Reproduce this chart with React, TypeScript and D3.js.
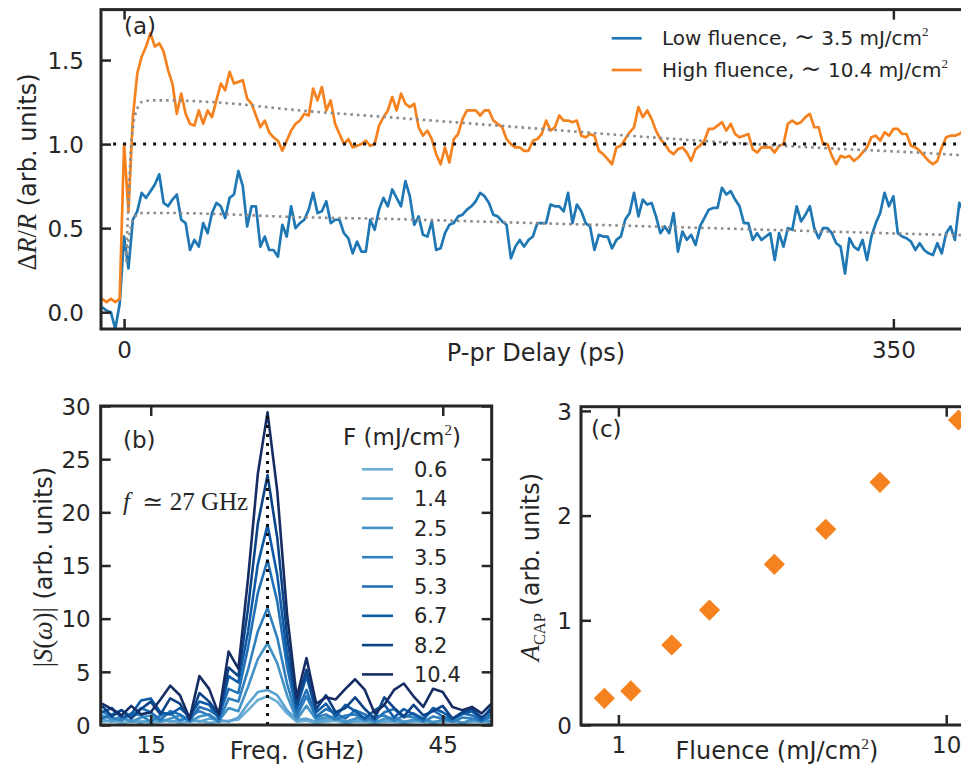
import React, { useEffect, useRef } from "react";
import * as d3 from "d3";

const W = 961;
const H = 767;
const INK = "#262626";
const SANS = "'DejaVu Sans', sans-serif";
const SERIF = "'Liberation Serif', 'DejaVu Serif', serif";
const BLUE = "#1f77b4";
const ORANGE = "#f5821f";
const FIT_GREY = "#8c8c8c";

// (a) dR/R traces, one sample every 2 ps starting at -10 ps
const delayStart = -10;
const delayStep = 2;
const highFluence = [
  0.08, 0.06, 0.08, 0.06, 0.08, 1.0, 0.6, 1.16, 1.42, 1.52,
  1.58, 1.66, 1.58, 1.6, 1.55, 1.44, 1.36, 1.18, 1.3, 1.18,
  1.12, 1.11, 1.2, 1.12, 1.2, 1.16, 1.26, 1.36, 1.32, 1.43,
  1.36, 1.37, 1.38, 1.27, 1.24, 1.17, 1.1, 1.14, 1.07, 1.04,
  1.02, 0.96, 1.02, 1.08, 1.12, 1.14, 1.18, 1.17, 1.33, 1.26,
  1.34, 1.2, 1.26, 1.12, 1.06, 1.0, 1.03, 0.98, 0.99, 1.0,
  1.02, 0.99, 1.0, 1.11, 1.16, 1.2, 1.28, 1.2, 1.3, 1.24,
  1.22, 1.24, 1.1, 1.05, 1.08, 1.03, 0.94, 0.88, 0.98, 0.89,
  1.03, 1.06, 1.15, 1.2, 1.2, 1.2, 1.17, 1.2, 1.2, 1.14,
  1.12, 1.1, 1.03, 1.0, 0.98, 0.98, 0.96, 0.96, 1.02, 1.03,
  1.06, 1.14, 1.08, 1.1, 1.17, 1.14, 1.14, 1.13, 1.14, 1.05,
  1.04, 1.06, 1.05, 0.96, 0.94, 0.91, 0.88, 0.98, 0.99, 1.03,
  1.07, 1.1, 1.22, 1.16, 1.2, 1.15, 1.08, 1.03, 1.0, 0.96,
  0.94, 0.97, 0.98, 0.95, 0.9, 0.97, 0.99, 1.02, 1.09, 1.09,
  1.11, 1.13, 1.08, 1.12, 1.06, 1.04, 1.05, 1.06, 0.97, 0.95,
  0.98, 0.98, 0.98, 0.95, 0.99, 1.0, 1.12, 1.14, 1.12, 1.13,
  1.16, 1.18, 1.1, 1.1, 1.0, 1.0, 0.93, 0.88, 0.93, 0.92,
  0.93, 0.9, 0.92, 0.95, 0.98, 1.04, 1.05, 1.02, 1.07, 1.05,
  1.09, 1.09, 1.06, 1.06, 0.99, 0.98, 0.96, 0.93, 0.9, 0.88,
  0.9, 0.98, 1.04, 1.05, 1.05, 1.06, 1.08,
];
const lowFluence = [
  0.03, 0.01, 0.0, -0.1, 0.05, 0.45, 0.26, 0.55, 0.6, 0.71,
  0.68, 0.72, 0.76, 0.82, 0.65, 0.63, 0.67, 0.7, 0.55, 0.53,
  0.37, 0.43, 0.39, 0.53, 0.47, 0.59, 0.65, 0.63, 0.56, 0.68,
  0.7, 0.84, 0.75, 0.51, 0.63, 0.63, 0.39, 0.45, 0.37, 0.37,
  0.33, 0.52, 0.45, 0.63, 0.5, 0.53, 0.55, 0.61, 0.71, 0.59,
  0.6, 0.66, 0.53, 0.55, 0.55, 0.47, 0.44, 0.35, 0.42, 0.36,
  0.36, 0.55, 0.49, 0.61, 0.68, 0.63, 0.73, 0.68, 0.63, 0.78,
  0.69, 0.52, 0.57, 0.46, 0.45, 0.54, 0.37, 0.38, 0.47, 0.52,
  0.53, 0.57, 0.58, 0.61, 0.63, 0.66, 0.71, 0.69, 0.65, 0.58,
  0.57, 0.54, 0.52, 0.32, 0.39, 0.43, 0.39, 0.43, 0.45, 0.53,
  0.53, 0.53, 0.64, 0.63, 0.63, 0.6, 0.71, 0.53, 0.64, 0.6,
  0.53, 0.51, 0.37, 0.46, 0.45, 0.45, 0.38, 0.43, 0.45, 0.55,
  0.59, 0.71, 0.57, 0.67, 0.64, 0.65, 0.57, 0.47, 0.51, 0.47,
  0.59, 0.36, 0.48, 0.43, 0.46, 0.4, 0.51, 0.56, 0.61, 0.62,
  0.62, 0.74, 0.7, 0.72, 0.67, 0.63, 0.53, 0.53, 0.43, 0.47,
  0.43, 0.45, 0.47, 0.31, 0.47, 0.39, 0.5, 0.49, 0.63, 0.54,
  0.58, 0.63, 0.5, 0.44, 0.5, 0.5, 0.47, 0.41, 0.39, 0.23,
  0.44, 0.39, 0.37, 0.43, 0.31, 0.45, 0.53, 0.59, 0.71, 0.63,
  0.69, 0.47, 0.45, 0.44, 0.42, 0.37, 0.41, 0.37, 0.35, 0.34,
  0.41, 0.35, 0.47, 0.51, 0.43, 0.65, 0.6,
];

// (a) fitted background, grey dotted
const fitDelays = [1, 2, 3, 4, 6, 8, 12, 20, 40, 80, 120, 160, 200, 240, 280, 320, 360, 392];
const highFit = [0.35, 0.65, 0.95, 1.1, 1.21, 1.25, 1.26, 1.26, 1.25, 1.2, 1.16, 1.12, 1.08, 1.04, 1.005, 0.975, 0.95, 0.925];
const lowFit = [0.3, 0.42, 0.5, 0.55, 0.58, 0.59, 0.59, 0.59, 0.585, 0.565, 0.555, 0.54, 0.525, 0.51, 0.495, 0.48, 0.465, 0.455];

const delayTicks = [0, 350];
const reflTicks = [0, 0.5, 1, 1.5];
const legendA = [
  { label: "Low fluence, ", value: " 3.5 mJ/cm", color: BLUE },
  { label: "High fluence, ", value: " 10.4 mJ/cm", color: ORANGE },
];

// (b) |S(w)|, 1 GHz grid from 10 GHz
const freqStart = 10;
const spec06 = [
  0.3, 0.4, 0.2, 0.3, 0.4, 0.2, 0.3, 0.4, 0.2, 0.3,
  0.4, 0.2, 0.3, 0.4, 0.5, 1.4, 2.35, 2.7, 2.2, 1.1,
  0.3, 0.4, 0.2, 0.3, 0.4, 0.2, 0.3, 0.3, 0.2, 0.3,
  0.3, 0.2, 0.3, 0.3, 0.2, 0.3, 0.3, 0.2, 0.3, 0.3, 0.2,
];
const spec14 = [
  0.5, 0.3, 0.6, 0.4, 0.2, 0.5, 0.6, 0.3, 0.5, 0.6,
  0.3, 0.6, 0.5, 0.3, 0.7, 2.0, 3.1, 3.3, 2.8, 1.4,
  0.5, 0.6, 0.3, 0.5, 0.6, 0.2, 0.4, 0.5, 0.3, 0.4,
  0.5, 0.2, 0.4, 0.5, 0.3, 0.4, 0.5, 0.2, 0.4, 0.5, 0.3,
];
const spec25 = [
  0.9, 0.5, 0.8, 0.3, 0.7, 0.9, 0.3, 0.6, 0.9, 0.3,
  0.8, 1.0, 0.4, 1.6, 1.3, 3.6, 6.2, 7.7, 5.8, 2.8,
  0.5, 1.8, 0.5, 0.7, 0.8, 0.3, 0.6, 0.7, 0.2, 0.6,
  0.7, 0.3, 0.5, 0.6, 0.2, 0.5, 0.6, 0.2, 0.5, 0.6, 0.3,
];
const spec35 = [
  1.3, 0.7, 0.4, 1.1, 0.9, 0.3, 0.9, 1.1, 0.4, 0.8,
  1.3, 0.9, 0.3, 2.5, 2.2, 5.2, 8.8, 11.0, 8.2, 3.9,
  0.8, 2.7, 0.7, 1.0, 0.5, 0.9, 1.0, 0.4, 0.8, 0.9,
  0.4, 0.9, 0.7, 0.3, 0.8, 0.6, 0.3, 0.7, 0.6, 0.3, 0.8,
];
const spec53 = [
  0.6, 1.0, 1.4, 0.8, 1.6, 1.2, 0.5, 1.3, 1.0, 0.4,
  1.7, 1.4, 0.8, 3.4, 3.0, 7.3, 12.4, 15.5, 11.6, 5.5,
  1.2, 3.3, 0.8, 1.5, 1.1, 0.6, 1.4, 1.0, 0.4, 1.2,
  1.5, 0.7, 1.1, 0.6, 1.4, 0.8, 0.5, 1.1, 0.9, 0.4, 1.1,
];
const spec67 = [
  1.2, 1.6, 0.7, 1.0, 2.3, 2.5, 1.2, 1.0, 1.6, 0.8,
  2.2, 1.9, 0.6, 4.6, 4.0, 8.8, 15.1, 18.8, 14.1, 6.7,
  1.6, 4.6, 1.2, 2.0, 0.8, 1.9, 1.3, 0.6, 1.4, 1.9,
  0.7, 1.5, 1.0, 0.5, 1.6, 1.2, 0.6, 1.0, 1.3, 0.5, 1.7,
];
const spec82 = [
  1.8, 0.8, 1.4, 0.6, 1.5, 2.2, 1.0, 2.5, 2.0, 0.5,
  3.0, 2.2, 1.0, 5.4, 4.6, 11.0, 18.9, 23.5, 17.6, 8.4,
  2.0, 5.2, 1.5, 2.8, 1.2, 1.6, 2.6, 1.5, 0.6, 2.6,
  1.6, 0.8, 1.9, 0.9, 1.3, 1.8, 0.6, 1.2, 1.5, 0.7, 1.4,
];
const spec104 = [
  2.0, 1.5, 0.9, 1.8, 1.0, 1.2, 2.4, 3.7, 2.8, 0.6,
  4.6, 3.4, 1.0, 6.9, 5.3, 13.8, 23.6, 29.4, 22.0, 10.5,
  2.6, 6.3, 2.0, 2.6, 2.4, 3.4, 4.3, 3.3, 1.1, 1.9,
  3.3, 3.9, 2.7, 1.7, 3.4, 3.1, 1.7, 1.4, 1.7, 1.1, 2.0,
];
const spectra = [spec06, spec14, spec25, spec35, spec53, spec67, spec82, spec104];
const fluenceLabels = ["0.6", "1.4", "2.5", "3.5", "5.3", "6.7", "8.2", "10.4"];
const fluenceColors = ["#6baed6", "#5aa2d0", "#4292c6", "#3080bf", "#2270b5", "#0e5aa6", "#0c4488", "#162d64"];
const freqTicks = [15, 45];
const specTicks = [0, 5, 10, 15, 20, 25, 30];
const peakFreq = 27;
const peakTop = 29.4;

// (c) CAP amplitude vs fluence
const capFluence = [0.906, 1.091, 1.455, 1.896, 2.99, 4.29, 6.28, 10.9];
const capAmp = [0.255, 0.325, 0.764, 1.098, 1.535, 1.869, 2.318, 2.913];
const capXTicks = [1, 10];
const capYTicks = [0, 1, 2, 3];

type Part = { s: string; serif?: boolean; it?: boolean; rise?: number; k?: number };

// text made of tspans, rise in em (positive = up)
function rich(text: any, parts: Part[], size: number) {
  let cur = 0;
  text.style("white-space", "pre").attr("fill", INK);
  parts.forEach((p) => {
    const rise = p.rise ?? 0;
    text
      .append("tspan")
      .attr("dy", (cur - rise) * size)
      .attr("font-family", p.serif ? SERIF : SANS)
      .attr("font-style", p.it ? "italic" : "normal")
      .attr("font-size", size * (p.k ?? 1))
      .text(p.s);
    cur = rise;
  });
}

function styleAxis(g: any, size = 23) {
  g.attr("color", INK).attr("font-family", SANS).attr("font-size", size);
  g.select(".domain").remove();
  g.selectAll(".tick line").attr("stroke-width", 2.5);
}

function frame(g: any, x: number, y: number, w: number, h: number) {
  g.append("rect")
    .attr("x", x)
    .attr("y", y)
    .attr("width", w)
    .attr("height", h)
    .attr("fill", "none")
    .attr("stroke", INK)
    .attr("stroke-width", 3);
}

function drawA(svg: any) {
  const L = 101, T = 9.6, B = 329;
  const x = d3.scaleLinear().domain([-10.5, 392]).range([L, L + 2.198 * 402.5]);
  const y = d3.scaleLinear().domain([-0.1, 1.8]).range([B, T]);
  const g = svg.append("g");

  g.append("clipPath").attr("id", "clipA").append("rect")
    .attr("x", L).attr("y", T).attr("width", 900).attr("height", B - T);
  const plot = g.append("g").attr("clip-path", "url(#clipA)");

  const delays = highFluence.map((_, i) => delayStart + i * delayStep);
  const trace = d3.line<number>().x((_, i) => x(delays[i])).y((v) => y(v));
  [lowFluence, highFluence].forEach((vals, k) => {
    plot.append("path")
      .attr("d", trace(vals))
      .attr("fill", "none")
      .attr("stroke", k === 0 ? BLUE : ORANGE)
      .attr("stroke-width", 2.7)
      .attr("stroke-linejoin", "round");
  });

  // fits
  const fit = d3.line<number>().curve(d3.curveMonotoneX).x((_, i) => x(fitDelays[i])).y((v) => y(v));
  [highFit, lowFit].forEach((vals) => {
    plot.append("path")
      .attr("d", fit(vals))
      .attr("fill", "none")
      .attr("stroke", FIT_GREY)
      .attr("stroke-width", 2.6)
      .attr("stroke-dasharray", "2.6,4");
  });

  // reference level
  plot.append("line")
    .attr("x1", x(-5)).attr("x2", x(392))
    .attr("y1", y(1)).attr("y2", y(1))
    .attr("stroke", "#111")
    .attr("stroke-width", 3)
    .attr("stroke-dasharray", "3,7");

  frame(g, L, T, 900, B - T);

  const left = g.append("g").attr("transform", `translate(${L},0)`)
    .call(d3.axisLeft(y).tickValues(reflTicks).tickFormat(d3.format(".1f")).tickSize(-10).tickPadding(17));
  styleAxis(left);
  left.selectAll(".tick text").attr("dy", "0.36em");
  const bottom = g.append("g").attr("transform", `translate(0,${B})`)
    .call(d3.axisBottom(x).tickValues(delayTicks).tickFormat(d3.format("d")).tickSize(-10).tickPadding(13));
  styleAxis(bottom);
  const top = g.append("g").attr("transform", `translate(0,${T})`)
    .call(d3.axisTop(x).tickValues(delayTicks).tickFormat(() => "").tickSize(-10));
  styleAxis(top);

  rich(g.append("text").attr("x", 536).attr("y", 361).attr("text-anchor", "middle"),
    [{ s: "P-pr Delay (ps)" }], 24);
  rich(g.append("text").attr("transform", "translate(36,172) rotate(-90)").attr("text-anchor", "middle"),
    [
      { s: "Δ", serif: true, k: 1.1 },
      { s: "R", serif: true, it: true, k: 1.1 },
      { s: "/", serif: true, k: 1.1 },
      { s: "R", serif: true, it: true, k: 1.1 },
      { s: " (arb. units)" },
    ], 24);
  rich(g.append("text").attr("x", 124).attr("y", 34), [{ s: "(a)" }], 23);

  // legend
  legendA.forEach((d, i) => {
    const ly = 38.3 + i * 31.7;
    g.append("line")
      .attr("x1", 611.7).attr("x2", 641.7).attr("y1", ly).attr("y2", ly)
      .attr("stroke", d.color).attr("stroke-width", 2.7);
    rich(g.append("text").attr("x", 662).attr("y", ly + 6.5),
      [
        { s: d.label },
        { s: "∼", serif: true, k: 1.25 },
        { s: d.value },
        { s: "2", serif: true, rise: 0.42, k: 0.65 },
      ], 20);
  });
}

function drawB(svg: any) {
  const L = 100.7, R = 491.7, T = 406, B = 725;
  const x = d3.scaleLinear().domain([9.86, 50.03]).range([L, R]);
  const y = d3.scaleLinear().domain([0, 30]).range([B, T]);
  const g = svg.append("g");

  g.append("clipPath").attr("id", "clipB").append("rect")
    .attr("x", L).attr("y", T).attr("width", R - L).attr("height", B - T);
  const plot = g.append("g").attr("clip-path", "url(#clipB)");

  const line = d3.line<number>().x((_, i) => x(freqStart + i)).y((v) => y(v));
  spectra.forEach((vals, k) => {
    plot.append("path")
      .attr("d", line(vals))
      .attr("fill", "none")
      .attr("stroke", fluenceColors[k])
      .attr("stroke-width", 2.6)
      .attr("stroke-linejoin", "round");
  });

  plot.append("line")
    .attr("x1", x(peakFreq)).attr("x2", x(peakFreq))
    .attr("y1", y(0)).attr("y2", y(peakTop))
    .attr("stroke", "#111")
    .attr("stroke-width", 3)
    .attr("stroke-dasharray", "3,6");

  frame(g, L, T, R - L, B - T);

  const left = g.append("g").attr("transform", `translate(${L},0)`)
    .call(d3.axisLeft(y).tickValues(specTicks).tickFormat(d3.format("d")).tickSize(-10).tickPadding(10));
  styleAxis(left);
  left.selectAll(".tick text").attr("dy", "0.36em");
  const right = g.append("g").attr("transform", `translate(${R},0)`)
    .call(d3.axisRight(y).tickValues(specTicks).tickFormat(() => "").tickSize(-10));
  styleAxis(right);
  const bottom = g.append("g").attr("transform", `translate(0,${B})`)
    .call(d3.axisBottom(x).tickValues(freqTicks).tickFormat(d3.format("d")).tickSize(-10).tickPadding(12));
  styleAxis(bottom);
  const top = g.append("g").attr("transform", `translate(0,${T})`)
    .call(d3.axisTop(x).tickValues(freqTicks).tickFormat(() => "").tickSize(-10));
  styleAxis(top);

  rich(g.append("text").attr("x", 297).attr("y", 759).attr("text-anchor", "middle"),
    [{ s: "Freq. (GHz)" }], 24);
  rich(g.append("text").attr("transform", "translate(52,567) rotate(-90)").attr("text-anchor", "middle"),
    [
      { s: "|", serif: true, k: 1.1 },
      { s: "S", serif: true, it: true, k: 1.1 },
      { s: "(", serif: true, k: 1.1 },
      { s: "ω", serif: true, it: true, k: 1.1 },
      { s: ")|", serif: true, k: 1.1 },
      { s: " (arb. units)" },
    ], 24);
  rich(g.append("text").attr("x", 123).attr("y", 448), [{ s: "(b)" }], 23);
  rich(g.append("text").attr("x", 123).attr("y", 510),
    [
      { s: "f", serif: true, it: true },
      { s: "  ≃ 27 GHz", serif: true },
    ], 25);

  // legend
  rich(g.append("text").attr("x", 343).attr("y", 445),
    [
      { s: "F (mJ/cm" },
      { s: "2", serif: true, rise: 0.42, k: 0.65 },
      { s: ")" },
    ], 23);
  fluenceLabels.forEach((lab, i) => {
    const ly = 469.3 + i * 29.3;
    g.append("line")
      .attr("x1", 362).attr("x2", 393).attr("y1", ly).attr("y2", ly)
      .attr("stroke", fluenceColors[i]).attr("stroke-width", 2.6);
    rich(g.append("text").attr("x", 414).attr("y", ly + 7.6), [{ s: lab }], 21);
  });
}

function drawC(svg: any) {
  const L = 581, T = 406.7, B = 725;
  const x = d3.scaleLog().domain([0.769, 13.6]).range([L, 990]);
  const y = d3.scaleLinear().domain([0, 3.04]).range([B, T]);
  const g = svg.append("g");

  frame(g, L, T, 500, B - T);

  const diamond = d3.symbol().type(d3.symbolSquare).size(225);
  g.selectAll(".pt")
    .data(capAmp)
    .join("path")
    .attr("class", "pt")
    .attr("d", diamond())
    .attr("transform", (v: number, i: number) => `translate(${x(capFluence[i])},${y(v)}) rotate(45)`)
    .attr("fill", ORANGE);

  const left = g.append("g").attr("transform", `translate(${L},0)`)
    .call(d3.axisLeft(y).tickValues(capYTicks).tickFormat(d3.format("d")).tickSize(-10).tickPadding(9));
  styleAxis(left);
  left.selectAll(".tick text").attr("dy", "0.36em");
  const bottom = g.append("g").attr("transform", `translate(0,${B})`)
    .call(d3.axisBottom(x).tickValues(capXTicks).tickFormat(d3.format("d")).tickSize(-10).tickPadding(12));
  styleAxis(bottom);
  const top = g.append("g").attr("transform", `translate(0,${T})`)
    .call(d3.axisTop(x).tickValues(capXTicks).tickFormat(() => "").tickSize(-10));
  styleAxis(top);

  rich(g.append("text").attr("x", 777).attr("y", 759).attr("text-anchor", "middle"),
    [
      { s: "Fluence (mJ/cm" },
      { s: "2", serif: true, rise: 0.42, k: 0.65 },
      { s: ")" },
    ], 24);
  rich(g.append("text").attr("transform", "translate(539,567) rotate(-90)").attr("text-anchor", "middle"),
    [
      { s: "A", serif: true, it: true, k: 1.1 },
      { s: "CAP", serif: true, rise: -0.25, k: 0.68 },
      { s: " (arb. units)" },
    ], 24);
  rich(g.append("text").attr("x", 591).attr("y", 437), [{ s: "(c)" }], 23);
}

export default function App() {
  const ref = useRef<SVGSVGElement>(null);

  useEffect(() => {
    const svg = d3.select(ref.current);
    svg.selectAll("*").remove();
    drawA(svg);
    drawB(svg);
    drawC(svg);
  }, []);

  return (
    <svg
      ref={ref}
      width={W}
      height={H}
      style={{ position: "absolute", left: 0, top: 0, background: "#fff" }}
    />
  );
}
